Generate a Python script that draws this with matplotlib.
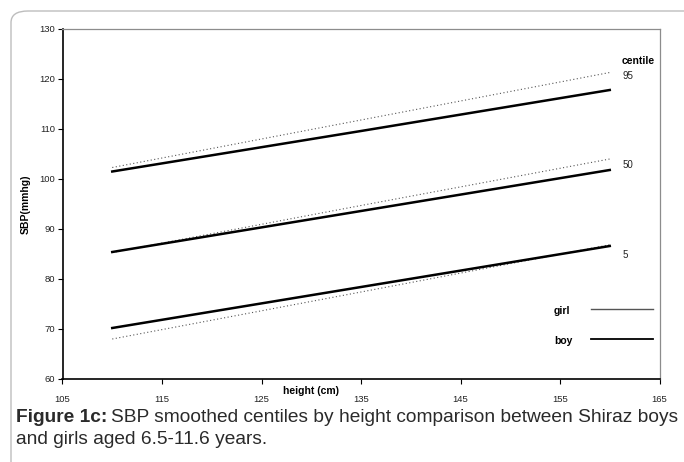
import matplotlib.pyplot as plt
from matplotlib.patches import FancyBboxPatch

plt.rcParams['font.family'] = ['Liberation Sans', 'DejaVu Sans']

# height (cm) at which the smoothed centiles were read
height = [110, 135, 160]

# SBP centiles, boys (solid) and girls (dotted)
boy_95 = [101.5, 109.6, 117.8]
boy_50 = [85.4, 93.6, 101.8]
boy_5 = [70.2, 78.4, 86.6]
girl_95 = [102.3, 111.8, 121.3]
girl_50 = [85.3, 94.7, 104.0]
girl_5 = [68.0, 77.4, 86.85]

centile_labels = ["95", "50", "5"]
centile_label_y = [120.6, 102.7, 84.8]

xticks = [105, 115, 125, 135, 145, 155, 165]
yticks = [60, 70, 80, 90, 100, 110, 120, 130]

fig = plt.figure(figsize=(6.84, 4.62), dpi=100, facecolor="white")

# rounded frame round the figure panel
frame = FancyBboxPatch((11 / 684, -0.2), 1.2, 1.2 - 11 / 462,
                       boxstyle="round,pad=0,rounding_size=0.025",
                       transform=fig.transFigure, facecolor="none",
                       edgecolor="#bdbdbd", linewidth=1.0, clip_on=False)
fig.patches.append(frame)

ax = fig.add_axes([62.5 / 684, 1 - 379 / 462, 597 / 684, 350 / 462])

girl_style = dict(color="#555555", linestyle=(0, (1, 2.2)), linewidth=0.8)
boy_style = dict(color="black", linewidth=1.8)

for g in [girl_95, girl_50, girl_5]:
    ax.plot(height, g, **girl_style)
for b in [boy_95, boy_50, boy_5]:
    ax.plot(height, b, **boy_style)

ax.set_xlim(105, 165)
ax.set_ylim(60, 130)
ax.set_xticks(xticks)
ax.set_yticks(yticks)
ax.tick_params(axis="both", direction="out", length=3.5, width=0.8,
               labelsize=6.8, pad=2, colors="black", labelcolor="#222222")
ax.tick_params(axis="x", pad=8)

for side in ["left", "bottom"]:
    ax.spines[side].set_color("black")
    ax.spines[side].set_linewidth(1.2)
for side in ["top", "right"]:
    ax.spines[side].set_color("#8c8c8c")
    ax.spines[side].set_linewidth(0.9)

ax.set_ylabel("SBP(mmhg)", fontsize=7.5, fontweight="bold", labelpad=6)
ax.text(130, 57.6, "height (cm)", fontsize=7.5, fontweight="bold",
        ha="center", va="center", clip_on=False)

# centile labels on the right
ax.text(161.2, 123.6, "centile", fontsize=7.5, fontweight="bold",
        ha="left", va="center", clip_on=False)
for lab, yy in zip(centile_labels, centile_label_y):
    ax.text(161.3, yy, lab, fontsize=7, ha="left", va="center",
            color="#222222", clip_on=False)

# hand-made legend
ax.text(154.4, 73.7, "girl", fontsize=7.5, fontweight="bold", ha="left", va="center")
ax.text(154.4, 67.7, "boy", fontsize=7.5, fontweight="bold", ha="left", va="center")
ax.plot([158.1, 164.3], [74.06, 74.06], color="#555555", linewidth=1.0)
ax.plot([158.1, 164.3], [67.95, 67.95], color="black", linewidth=1.3)

# caption: bold lead-in, then the rest placed right after it
cap_size = 13.8
lead = fig.text(16 / 684, 1 - 417 / 462, "Figure 1c:", fontsize=cap_size,
                fontweight="bold", color="#2a2a2a", ha="left", va="center")
renderer = fig.canvas.get_renderer()
bb = lead.get_window_extent(renderer)
fig.text((bb.x1 + 4) / 684, 1 - 417 / 462,
         "SBP smoothed centiles by height comparison between Shiraz boys",
         fontsize=cap_size, color="#2a2a2a", ha="left", va="center")
fig.text(16 / 684, 1 - 440 / 462, "and girls aged 6.5-11.6 years.", fontsize=cap_size,
         color="#2a2a2a", ha="left", va="center")

fig.savefig("out.png", dpi=100, facecolor="white")
